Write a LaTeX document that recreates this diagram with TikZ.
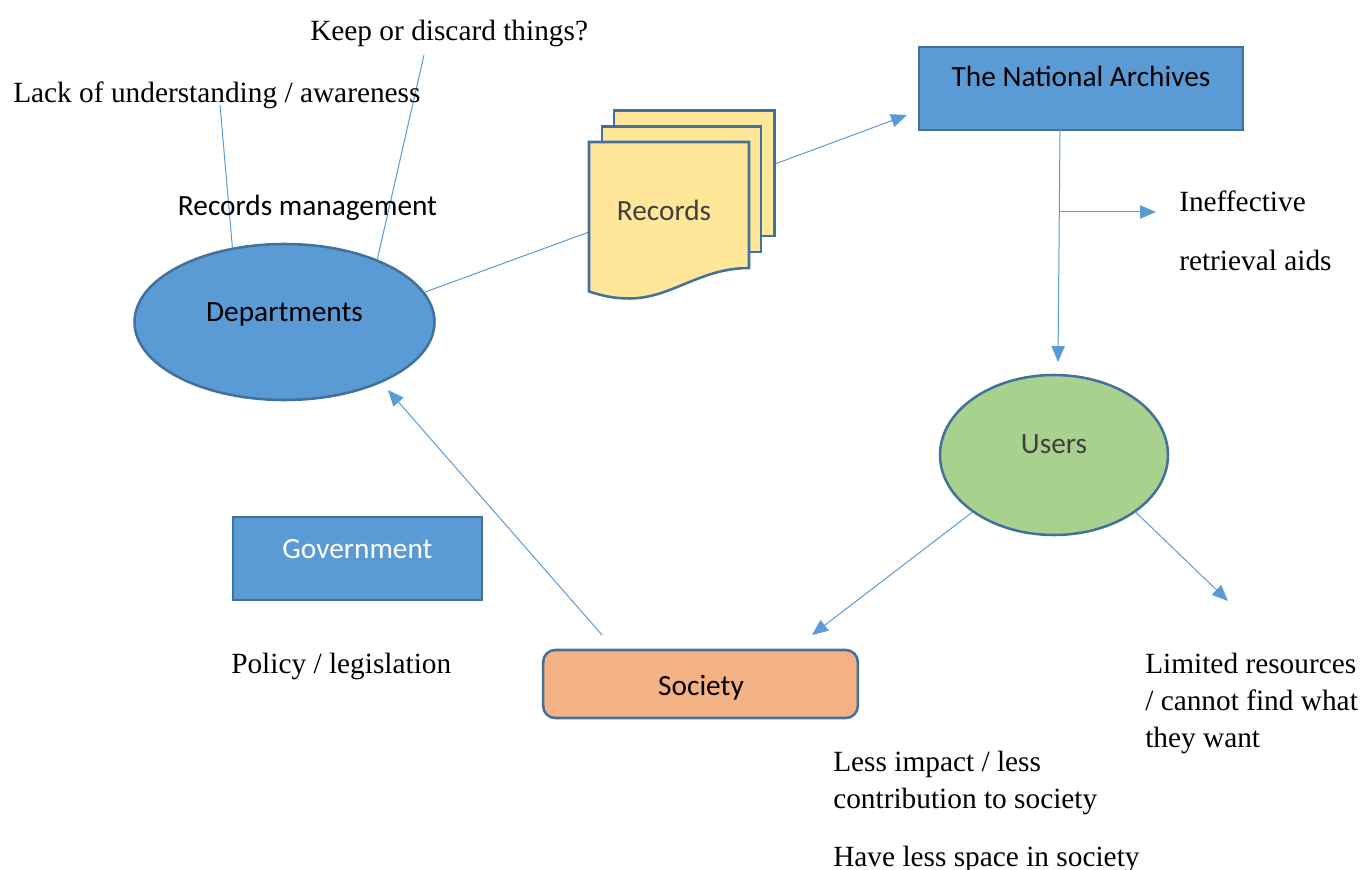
\documentclass[tikz,border=0pt]{standalone}
\usepackage{fontspec}
\setmainfont{Liberation Serif}
\newfontfamily\calfont{Carlito}
\usetikzlibrary{arrows.meta,shapes.geometric}
\definecolor{bluef}{HTML}{5B9BD5}
\definecolor{blued}{HTML}{41719C}
\definecolor{yel}{HTML}{FFE699}
\definecolor{grn}{HTML}{A9D18E}
\definecolor{org}{HTML}{F4B183}
\tikzset{
 x=0.75pt,y=-0.75pt,
 con/.style={draw=bluef,line width=0.75pt},
 arr/.style={con,-{Triangle[length=12pt,width=10pt]}},
 lab/.style={font=\fontsize{22}{26}\selectfont,anchor=base west,inner sep=0pt},
 clab/.style={font=\calfont\fontsize{22}{26}\selectfont,inner sep=0pt,anchor=base},
 shp/.style={draw=blued,line width=1.9pt},
 ell/.style={shp,ellipse,inner sep=0pt},
 sheet/.style={shp,fill=yel}
}
\begin{document}
\begin{tikzpicture}
\useasboundingbox (0,0) rectangle (1364,870);
\fill[white] (0,0) rectangle (1364,870);
% nodes
\node[ell,fill=bluef,minimum width=225pt,minimum height=117pt] (dep) at (284.5,322) {};
\node[ell,fill=grn,minimum width=171pt,minimum height=120pt] (usr) at (1054,455) {};
\node[shp,fill=bluef,minimum width=243pt,minimum height=62pt,inner sep=0pt] (tna) at (1081,88.5) {};
\node[shp,fill=bluef,minimum width=187pt,minimum height=62pt,inner sep=0pt] (gov) at (357.5,558.5) {};
\node[shp,fill=org,rounded corners=9pt,minimum width=236pt,minimum height=51pt,inner sep=0pt] (soc) at (700.5,684) {};
% free ends
\coordinate (recL) at (589,232);
\coordinate (recR) at (775,164);
\coordinate (tnaEnd) at (907,115);
\coordinate (tnaOut) at (1060,130);
\coordinate (usrIn) at (1058,362);
\coordinate (c1) at (220,105);
\coordinate (c2) at (424,55);
\coordinate (c3) at (1156,212);
\coordinate (c4) at (1060,212);
\coordinate (c5) at (1228,601);
\coordinate (c6) at (602,635);
\coordinate (c7) at (812,635);
\coordinate (c8) at (388,390);
% connectors
\draw[con] (c1) -- (dep.125);
\draw[con] (c2) -- (dep.34);
\draw[con] (dep.12) -- (recL);
\draw[arr] (recR) -- (tnaEnd);
\draw[arr] (tnaOut) -- (usrIn);
\draw[arr] (c4) -- (c3);
\draw[arr] (usr.215) -- (c7);
\draw[arr] (usr.-35) -- (c5);
\draw[arr] (c6) -- (c8);
% records
\draw[sheet] (614,110.5) rectangle (774.5,236);
\draw[sheet] (602,126.4) rectangle (761,252);
\draw[sheet] (589,142) -- (749,142) -- (749,268) .. controls (700,268) and (672,298) .. (630,298.5) .. controls (612,298.5) and (600,295) .. (589,291.5) -- cycle;
\node[clab,text=black!75] (rec) at (664,221) {Records};
% labels
\node[clab] (d) at (284.5,321) {Departments};
\node[clab,text=black!75] (u) at (1054,453) {Users};
\node[clab] (t) at (1081,87) {The National Archives};
\node[clab,text=white] (g) at (357.5,558) {Government};
\node[clab] (s) at (701,695) {Society};
\node[clab] (rm) at (307.5,216) {Records management};
\node[lab] (l1) at (310,41) {Keep or discard things?};
\node[lab] (l2) at (13,103) {Lack of understanding / awareness};
\node[lab] (l3) at (1179,212) {Ineffective};
\node[lab] (l4) at (1179,270) {retrieval aids};
\node[lab] (l5) at (231,673) {Policy / legislation};
\node[lab] (l6) at (1145,673) {Limited resources};
\node[lab] (l7) at (1145,710) {/ cannot find what};
\node[lab] (l8) at (1145,747) {they want};
\node[lab] (l9) at (833,771) {Less impact / less};
\node[lab] (l10) at (833,808) {contribution to society};
\node[lab] (l11) at (833,866) {Have less space in society};
\end{tikzpicture}
\end{document}
